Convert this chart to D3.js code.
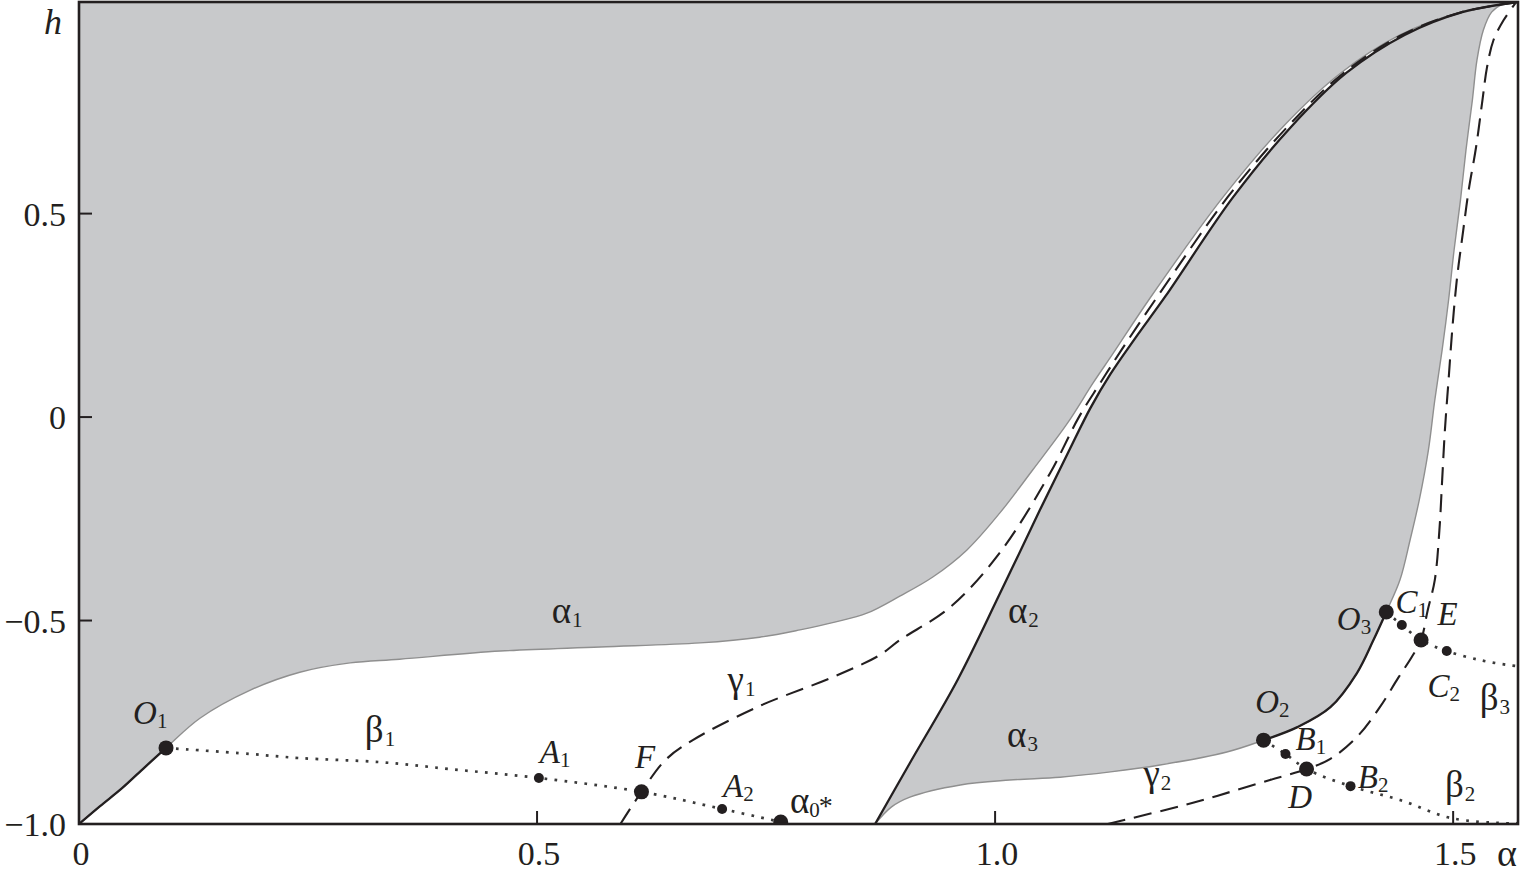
<!DOCTYPE html>
<html><head><meta charset="utf-8">
<script src="https://cdn.jsdelivr.net/npm/d3@7"></script>
<style>body{margin:0;background:#fff} svg{display:block}</style>
</head><body><svg id="chart" width="1522" height="877"></svg>
<script>
// ---------- data (alpha, h) ----------
const xTicks = [0, 0.5, 1.0, 1.5];
const xTickLabels = ["0", "0.5", "1.0", "1.5"];
const yTicks = [-1, -0.5, 0, 0.5];
const yTickLabels = ["\u22121.0", "\u22120.5", "0", "0.5"];

// boundary of the upper-left shaded region: solid part (0,-1) -> O1
const alpha1Lower = [[0,-1],[0.023,-0.956],[0.047,-0.912],[0.072,-0.860],[0.095,-0.813]];
// thin grey part O1 -> top right corner
const alpha1Upper = [[0.095,-0.813],[0.132,-0.740],[0.187,-0.671],[0.241,-0.627],[0.296,-0.604],[0.350,-0.595],[0.460,-0.575],[0.569,-0.565],[0.678,-0.555],[0.743,-0.541],[0.787,-0.523],[0.825,-0.504],[0.860,-0.482],[0.896,-0.440],[0.932,-0.393],[0.969,-0.327],[1.005,-0.236],[1.041,-0.130],[1.079,-0.015],[1.107,0.084],[1.129,0.157],[1.169,0.292],[1.249,0.541],[1.314,0.713],[1.377,0.845],[1.442,0.939],[1.508,0.995],[1.5708,1.02]];
// alpha2: solid left boundary of the right shaded region
const alpha2Curve = [[0.869,-1.0],[0.907,-0.850],[0.959,-0.646],[1.005,-0.435],[1.049,-0.228],[1.080,-0.086],[1.104,0.022],[1.126,0.106],[1.153,0.194],[1.186,0.297],[1.260,0.541],[1.323,0.713],[1.383,0.845],[1.447,0.939],[1.510,0.995],[1.5708,1.02]];
// alpha3: lower boundary of right shaded region up to O2
const alpha3Curve = [[0.869,-1.0],[0.887,-0.958],[0.907,-0.934],[0.962,-0.904],[1.016,-0.892],[1.071,-0.885],[1.126,-0.872],[1.180,-0.855],[1.253,-0.823],[1.293,-0.794]];
// solid O2 -> O3
const o2o3Curve = [[1.293,-0.794],[1.330,-0.762],[1.366,-0.713],[1.395,-0.629],[1.413,-0.548],[1.427,-0.479]];
// thin grey O3 -> top
const rightUpperCurve = [[1.427,-0.479],[1.442,-0.400],[1.453,-0.302],[1.463,-0.204],[1.473,-0.081],[1.480,0.042],[1.488,0.165],[1.495,0.287],[1.501,0.410],[1.508,0.533],[1.514,0.656],[1.521,0.779],[1.526,0.877],[1.533,0.951],[1.542,0.995],[1.554,1.015],[1.565,1.02]];
// dashed gamma curves
const gamma1Curve = [[0.591,-1.0],[0.614,-0.921],[0.640,-0.843],[0.670,-0.794],[0.743,-0.710],[0.823,-0.639],[0.874,-0.585],[0.896,-0.548],[0.951,-0.467],[1.005,-0.334],[1.060,-0.138],[1.091,-0.002],[1.114,0.081],[1.138,0.165],[1.176,0.292],[1.254,0.541],[1.319,0.713],[1.380,0.845],[1.444,0.939],[1.509,0.995],[1.5708,1.02]];
const gamma2Curve = [[1.123,-1.0],[1.216,-0.948],[1.257,-0.921],[1.300,-0.892],[1.340,-0.865],[1.366,-0.840],[1.395,-0.786],[1.420,-0.713],[1.440,-0.641],[1.455,-0.589],[1.465,-0.548],[1.472,-0.477],[1.480,-0.400],[1.485,-0.278],[1.488,-0.155],[1.491,-0.032],[1.495,0.091],[1.499,0.214],[1.504,0.337],[1.511,0.459],[1.517,0.558],[1.525,0.663],[1.532,0.779],[1.537,0.860],[1.544,0.926],[1.555,0.975],[1.568,1.017]];
// dotted beta curves
const beta1Curve = [[0.095,-0.813],[0.187,-0.828],[0.241,-0.838],[0.329,-0.848],[0.405,-0.865],[0.502,-0.887],[0.614,-0.921],[0.702,-0.963],[0.766,-0.995]];
const beta2Curve = [[1.293,-0.794],[1.317,-0.828],[1.340,-0.865],[1.388,-0.907],[1.442,-0.941],[1.497,-0.985],[1.555,-0.998],[1.5708,-0.998]];
const beta3Curve = [[1.427,-0.479],[1.444,-0.511],[1.465,-0.548],[1.493,-0.575],[1.529,-0.597],[1.559,-0.609],[1.5708,-0.612]];
// marked points
const bigPoints = [[0.095,-0.813],[0.614,-0.921],[0.766,-0.995],[1.293,-0.794],[1.340,-0.865],[1.427,-0.479],[1.465,-0.548]];
const smallPoints = [[0.502,-0.887],[0.702,-0.963],[1.317,-0.828],[1.388,-0.907],[1.444,-0.511],[1.493,-0.575]];

// annotation anchors (data coords) : main text, subscript, italic?
const annotations = [
  {p:[0.516,-0.506], t:"\u03b1", s:"1", it:false},
  {p:[1.014,-0.506], t:"\u03b1", s:"2", it:false},
  {p:[1.013,-0.811], t:"\u03b1", s:"3", it:false},
  {p:[0.708,-0.676], t:"\u03b3", s:"1", it:false},
  {p:[1.162,-0.906], t:"\u03b3", s:"2", it:false},
  {p:[0.312,-0.799], t:"\u03b2", s:"1", it:false},
  {p:[1.491,-0.934], t:"\u03b2", s:"2", it:false},
  {p:[1.529,-0.720], t:"\u03b2", s:"3", it:false},
  {p:[0.059,-0.754], t:"O", s:"1", it:true},
  {p:[0.503,-0.850], t:"A", s:"1", it:true},
  {p:[0.607,-0.862], t:"F", s:"", it:true},
  {p:[0.703,-0.934], t:"A", s:"2", it:true},
  {p:[1.284,-0.727], t:"O", s:"2", it:true},
  {p:[1.328,-0.818], t:"B", s:"1", it:true},
  {p:[1.320,-0.961], t:"D", s:"", it:true},
  {p:[1.396,-0.912], t:"B", s:"2", it:true},
  {p:[1.373,-0.523], t:"O", s:"3", it:true},
  {p:[1.437,-0.482], t:"C", s:"1", it:true},
  {p:[1.483,-0.511], t:"E", s:"", it:true},
  {p:[1.472,-0.688], t:"C", s:"2", it:true}
];

// ---------- drawing ----------
const svg = d3.select("#chart");
const ink = "#231f20", shade = "#c8c9cb", edge = "#8f8f8f";
const serif = "'Liberation Serif','Times New Roman',serif";
const x = d3.scaleLinear().domain([0, Math.PI/2]).range([79, 1518]);
const y = d3.scaleLinear().domain([-1, 1.02]).range([824, 2]);

svg.append("rect").attr("width",1522).attr("height",877).attr("fill","#fff");
svg.append("defs").append("clipPath").attr("id","clip")
  .append("rect").attr("x",x(0)).attr("y",y(1.02)).attr("width",x(Math.PI/2)-x(0)).attr("height",y(-1)-y(1.02));

const line = d3.line().x(d=>x(d[0])).y(d=>y(d[1])).curve(d3.curveCatmullRom.alpha(0.5));
const g = svg.append("g").attr("clip-path","url(#clip)");

// shaded region 1 (above alpha1)
const alpha1Full = alpha1Lower.concat(alpha1Upper.slice(1));
g.append("path").attr("d", line(alpha1Full) + `L${x(0)},${y(1.02)}Z`).attr("fill",shade);
// shaded region 2 (between alpha2 and alpha3/right boundary)
const rightFull = alpha3Curve.concat(o2o3Curve.slice(1), rightUpperCurve.slice(1));
g.append("path").attr("d", line(alpha2Curve) + line(rightFull.slice().reverse()).replace(/^M/,"L") + "Z").attr("fill",shade);

// thin grey edges
g.append("path").attr("d", line(alpha1Full)).attr("fill","none").attr("stroke",edge).attr("stroke-width",1.4);
g.append("path").attr("d", line(rightFull)).attr("fill","none").attr("stroke",edge).attr("stroke-width",1.4);
// solid curves
[alpha1Lower, alpha2Curve, o2o3Curve].forEach(c=>{
  g.append("path").attr("d", line(c)).attr("fill","none").attr("stroke",ink).attr("stroke-width",2.3);
});
// dashed
[gamma1Curve, gamma2Curve].forEach(c=>{
  g.append("path").attr("d", line(c)).attr("fill","none").attr("stroke",ink).attr("stroke-width",2.1).attr("stroke-dasharray","18,9");
});
// dotted
[beta1Curve, beta2Curve, beta3Curve].forEach(c=>{
  g.append("path").attr("d", line(c)).attr("fill","none").attr("stroke","#3a3a3a").attr("stroke-width",2.7).attr("stroke-dasharray","2.7,7.3");
});
// points
g.selectAll("circle.big").data(bigPoints).join("circle").attr("class","big")
  .attr("cx",d=>x(d[0])).attr("cy",d=>y(d[1])).attr("r",7.5).attr("fill",ink);
g.selectAll("circle.small").data(smallPoints).join("circle").attr("class","small")
  .attr("cx",d=>x(d[0])).attr("cy",d=>y(d[1])).attr("r",5).attr("fill",ink);

// frame
svg.append("rect").attr("x",x(0)).attr("y",y(1.02)).attr("width",x(Math.PI/2)-x(0)).attr("height",y(-1)-y(1.02))
  .attr("fill","none").attr("stroke",ink).attr("stroke-width",2.6);

// ticks
svg.selectAll("line.yt").data(yTicks).join("line").attr("class","yt")
  .attr("x1",x(0)).attr("x2",x(0)+13).attr("y1",d=>y(d)).attr("y2",d=>y(d)).attr("stroke",ink).attr("stroke-width",2);
svg.selectAll("line.xt").data(xTicks).join("line").attr("class","xt")
  .attr("x1",d=>x(d)).attr("x2",d=>x(d)).attr("y1",y(-1)).attr("y2",y(-1)-13).attr("stroke",ink).attr("stroke-width",2);
svg.selectAll("text.yl").data(yTicks).join("text").attr("class","yl")
  .attr("x",66).attr("y",d=>y(d)+12).attr("text-anchor","end")
  .attr("font-family",serif).attr("font-size",34).attr("fill",ink).text((d,i)=>yTickLabels[i]);
svg.selectAll("text.xl").data(xTicks).join("text").attr("class","xl")
  .attr("x",d=>x(d)+2).attr("y",865).attr("text-anchor","middle")
  .attr("font-family",serif).attr("font-size",34).attr("fill",ink).text((d,i)=>xTickLabels[i]);

// axis titles
svg.append("text").attr("x",44).attr("y",34).attr("font-family",serif).attr("font-style","italic")
  .attr("font-size",36).attr("fill",ink).text("h");
svg.append("text").attr("x",1497).attr("y",866).attr("font-family",serif)
  .attr("font-size",38).attr("fill",ink).text("\u03b1");

// annotations
annotations.forEach(a=>{
  const t = svg.append("text").attr("x",x(a.p[0])).attr("y",y(a.p[1]))
    .attr("font-family",serif).attr("fill",ink);
  t.append("tspan").attr("font-size", a.it ? 33 : 37).attr("font-style", a.it ? "italic" : "normal").text(a.t);
  if (a.s) t.append("tspan").attr("font-size",21).attr("dy",4).attr("dx", a.it ? 0 : 1).text(a.s);
});
// alpha_0^*
{
  const p = [0.776,-0.973];
  const t = svg.append("text").attr("x",x(p[0])).attr("y",y(p[1])).attr("font-family",serif).attr("fill",ink);
  t.append("tspan").attr("font-size",37).text("\u03b1");
  t.append("tspan").attr("font-size",21).attr("dy",4).text("0");
  t.append("tspan").attr("font-size",28).attr("dx",-1).attr("dy",-2).text("*");
}
</script></body></html>
